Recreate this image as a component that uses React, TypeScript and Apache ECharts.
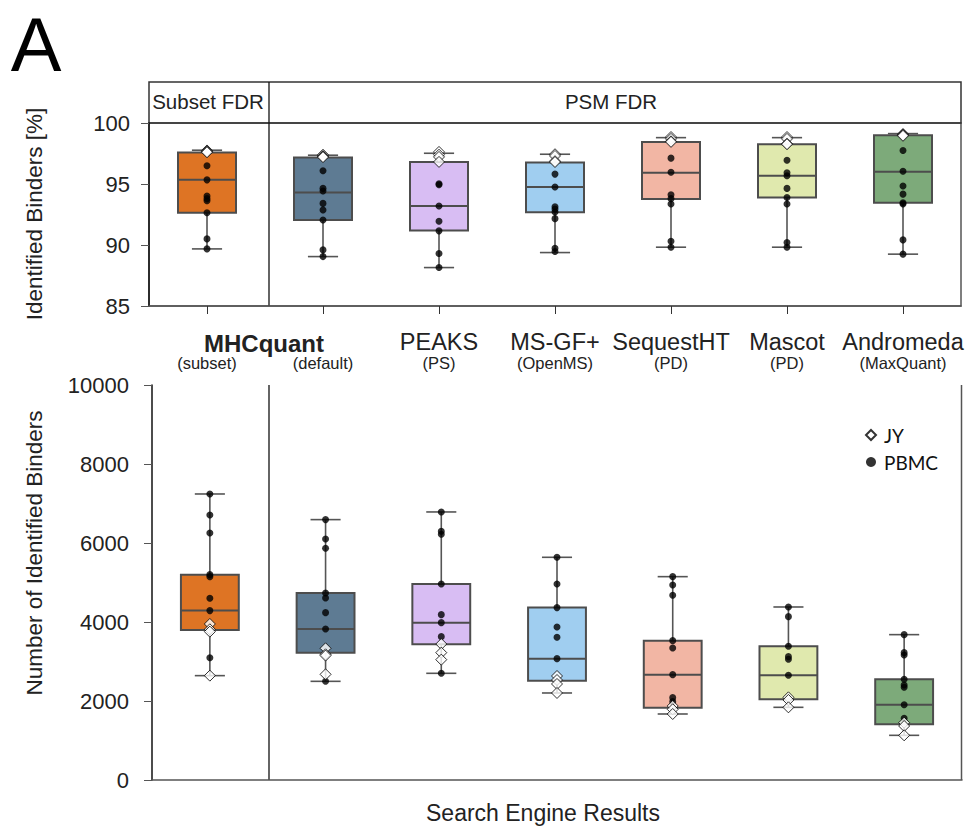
import React, { useEffect, useRef } from "react";
import * as echarts from "echarts";

// ---------- data ----------
const categories = ["MHCquant-subset", "MHCquant-default", "PEAKS", "MS-GF+", "SequestHT", "Mascot", "Andromeda"];
const engineNames = ["MHCquant", "MHCquant", "PEAKS", "MS-GF+", "SequestHT", "Mascot", "Andromeda"];
const subtitles = ["(subset)", "(default)", "(PS)", "(OpenMS)", "(PD)", "(PD)", "(MaxQuant)"];
const boxColors = ["#DE7424", "#5E7B93", "#D8BDF3", "#A0CEF0", "#F2B6A4", "#E0E9AE", "#7DAA7A"];

const pctTicks = [85, 90, 95, 100];
const countTicks = [0, 2000, 4000, 6000, 8000, 10000];

// [min, Q1, median, Q3, max]
const pctBox = [
  [89.68, 92.65, 95.34, 97.58, 97.77],
  [89.05, 92.05, 94.31, 97.17, 97.36],
  [88.15, 91.18, 93.19, 96.81, 97.52],
  [89.38, 92.68, 94.75, 96.76, 97.44],
  [89.82, 93.77, 95.92, 98.45, 98.8],
  [89.82, 93.9, 95.67, 98.26, 98.8],
  [89.25, 93.47, 96.0, 98.99, 99.13],
];
const pctJY = [
  [97.75, 97.7, 97.65, 97.6],
  [97.4, 97.3, 97.25, 97.2],
  [97.63, 97.4, 97.22, 96.81],
  [97.44, 97.3, 96.87, 96.8],
  [98.85, 98.7, 98.5, 98.45],
  [98.85, 98.7, 98.3, 98.26],
  [99.1, 99.05, 99.0, 98.95],
];
const pctPBMC = [
  [96.49, 95.34, 94.01, 93.8, 93.63, 92.65, 90.5, 89.68],
  [96.08, 94.64, 94.42, 93.41, 92.87, 92.05, 89.6, 89.05],
  [95.02, 94.94, 93.19, 91.94, 91.16, 89.3, 88.15],
  [95.81, 94.75, 93.14, 92.95, 92.7, 92.16, 89.74, 89.46],
  [97.12, 95.97, 94.12, 93.8, 93.36, 90.31, 89.82],
  [96.95, 95.92, 95.67, 94.64, 93.9, 93.36, 90.2, 89.82],
  [97.74, 96.05, 94.83, 94.17, 93.47, 93.36, 90.42, 89.25],
];

const countBox = [
  [2642, 3798, 4288, 5199, 7241],
  [2498, 3224, 3823, 4735, 6592],
  [2701, 3435, 3984, 4963, 6786],
  [2203, 2515, 3072, 4364, 5638],
  [1671, 1832, 2667, 3528, 5148],
  [1840, 2043, 2650, 3385, 4380],
  [1131, 1409, 1907, 2549, 3680],
];
const countJY = [
  [3950, 3815, 3756, 2642],
  [3334, 3182, 3150, 2675],
  [3443, 3224, 3047],
  [2633, 2532, 2431, 2203],
  [1874, 1790, 1671],
  [2093, 2026, 1840],
  [1451, 1367, 1131],
];
const countPBMC = [
  [7241, 6710, 6254, 5199, 5148, 4600, 4288, 3097],
  [6592, 6102, 5866, 4735, 4608, 4237, 3823, 2498],
  [6786, 6296, 6220, 4963, 4186, 3984, 3629, 2701],
  [5638, 4963, 4364, 3874, 3612, 3072],
  [5148, 4937, 4676, 3528, 3342, 2667, 2085, 1984],
  [4380, 4136, 3385, 3123, 3055, 2650],
  [3680, 3224, 3165, 2549, 2405, 2347, 1907, 1562],
];

// ---------- helpers ----------
const FONT = "Liberation Sans, Arial, sans-serif";
const TXT = "#222";

function boxSeries(box: number[][], gridIdx: number) {
  return {
    type: "custom",
    xAxisIndex: gridIdx,
    yAxisIndex: gridIdx,
    z: 2,
    data: box.map((b, i) => [i, ...b]),
    encode: { x: 0, y: [1, 2, 3, 4, 5] },
    renderItem: (params: any, api: any) => {
      const i = api.value(0);
      const pMin = api.coord([i, api.value(1)]);
      const pQ1 = api.coord([i, api.value(2)]);
      const pMed = api.coord([i, api.value(3)]);
      const pQ3 = api.coord([i, api.value(4)]);
      const pMax = api.coord([i, api.value(5)]);
      const band = api.size([1, 0])[0];
      const bw = band * 0.5;
      const cw = band * 0.26;
      const cx = pMed[0];
      const lineStyle = { stroke: "#555", lineWidth: 1.6, fill: null };
      return {
        type: "group",
        children: [
          { type: "line", shape: { x1: cx, y1: pMax[1], x2: cx, y2: pQ3[1] }, style: lineStyle },
          { type: "line", shape: { x1: cx, y1: pQ1[1], x2: cx, y2: pMin[1] }, style: lineStyle },
          { type: "line", shape: { x1: cx - cw / 2, y1: pMax[1], x2: cx + cw / 2, y2: pMax[1] }, style: lineStyle },
          { type: "line", shape: { x1: cx - cw / 2, y1: pMin[1], x2: cx + cw / 2, y2: pMin[1] }, style: lineStyle },
          {
            type: "rect",
            shape: { x: cx - bw / 2, y: pQ3[1], width: bw, height: pQ1[1] - pQ3[1] },
            style: { fill: boxColors[params.dataIndex], stroke: "#4d4d4d", lineWidth: 2 },
          },
          { type: "line", shape: { x1: cx - bw / 2, y1: pMed[1], x2: cx + bw / 2, y2: pMed[1] }, style: { stroke: "#4d4d4d", lineWidth: 2 } },
        ],
      };
    },
  };
}

function points(arr: number[][]) {
  const out: number[][] = [];
  arr.forEach((vals, i) => vals.forEach((v) => out.push([i, v])));
  return out;
}

function scatterPBMC(arr: number[][], gridIdx: number) {
  return {
    name: "PBMC",
    type: "scatter",
    xAxisIndex: gridIdx,
    yAxisIndex: gridIdx,
    symbol: "circle",
    symbolSize: 7,
    z: 4,
    itemStyle: { color: "#000" },
    data: points(arr),
  };
}
function scatterJY(arr: number[][], gridIdx: number) {
  return {
    name: "JY",
    type: "scatter",
    xAxisIndex: gridIdx,
    yAxisIndex: gridIdx,
    symbol: "diamond",
    symbolSize: 11,
    z: 5,
    itemStyle: { color: "#fff", borderColor: "#000", borderWidth: 1 },
    data: points(arr),
  };
}

export default function App() {
  const ref = useRef<HTMLDivElement>(null);
  useEffect(() => {
    const chart = echarts.init(ref.current!, null, { renderer: "svg" });
    const option: any = {
      animation: false,
      backgroundColor: "#fff",
      textStyle: { fontFamily: FONT },
      grid: [
        { left: 149, top: 123, width: 812, height: 183, show: true, borderColor: "#555", borderWidth: 1.5, backgroundColor: "transparent" },
        { left: 152, top: 385, width: 810, height: 395 },
      ],
      xAxis: [
        {
          type: "category",
          gridIndex: 0,
          data: categories,
          axisLine: { show: true, lineStyle: { color: "#555", width: 1.5 } },
          axisTick: { show: true, alignWithLabel: true, length: 8, lineStyle: { color: "#333" } },
          axisLabel: {
            interval: 0,
            margin: 23,
            formatter: (_v: string, idx: number) =>
              idx < 2 ? `{e| }\n{s|${subtitles[idx]}}` : `{m|${engineNames[idx]}}\n{s|${subtitles[idx]}}`,
            rich: {
              m: { fontSize: 23.5, lineHeight: 25, color: TXT, fontFamily: FONT },
              e: { fontSize: 23.5, lineHeight: 25, color: TXT, fontFamily: FONT },
              s: { fontSize: 16.5, lineHeight: 17, color: TXT, fontFamily: FONT },
            },
          },
          splitLine: { show: false },
        },
        {
          type: "category",
          gridIndex: 1,
          data: categories,
          axisLine: { show: true, lineStyle: { color: "#555", width: 1.5 } },
          axisTick: { show: false },
          axisLabel: { show: false },
        },
      ],
      yAxis: [
        {
          type: "value",
          gridIndex: 0,
          min: pctTicks[0],
          max: pctTicks[pctTicks.length - 1],
          interval: 5,
          axisLine: { show: true, lineStyle: { color: "#111", width: 1.5 } },
          axisTick: { show: true, length: 8, lineStyle: { color: "#555" } },
          axisLabel: { fontSize: 22, color: TXT, margin: 19, fontFamily: FONT, formatter: (v: number) => String(v) },
          splitLine: { show: false },
        },
        {
          type: "value",
          gridIndex: 1,
          min: countTicks[0],
          max: countTicks[countTicks.length - 1],
          interval: 2000,
          axisLine: { show: true, lineStyle: { color: "#111", width: 1.5 } },
          axisTick: { show: true, length: 8, lineStyle: { color: "#555" } },
          axisLabel: { fontSize: 22, color: TXT, margin: 23, fontFamily: FONT, formatter: (v: number) => String(v) },
          splitLine: { show: false },
        },
      ],
      legend: {
        orient: "vertical",
        left: 860,
        top: 420,
        itemWidth: 10,
        itemHeight: 10,
        itemGap: 7,
        data: ["JY", "PBMC"],
        textStyle: { fontFamily: "Lato, 'Open Sans', sans-serif", fontSize: 19, color: "#111", lineHeight: 20, padding: [0, 0, 0, 3] },
      },
      series: [
        boxSeries(pctBox, 0),
        scatterPBMC(pctPBMC, 0),
        scatterJY(pctJY, 0),
        boxSeries(countBox, 1),
        scatterPBMC(countPBMC, 1),
        scatterJY(countJY, 1),
      ],
      graphic: [
        { type: "text", x: 36, y: 44, style: { text: "A", fontSize: 76, fill: "#000", fontFamily: FONT, align: "center", verticalAlign: "middle" } },
        { type: "rect", shape: { x: 149, y: 82, width: 812, height: 41 }, style: { fill: "none", stroke: "#333", lineWidth: 1.5 } },
        { type: "line", shape: { x1: 269, y1: 82, x2: 269, y2: 306 }, style: { stroke: "#111", lineWidth: 1.3 } },
        { type: "line", shape: { x1: 269, y1: 385, x2: 269, y2: 780 }, style: { stroke: "#111", lineWidth: 1.3 } },
        { type: "line", shape: { x1: 961.5, y1: 385, x2: 961.5, y2: 780 }, style: { stroke: "#555", lineWidth: 1.5 } },
        { type: "text", x: 208, y: 101, style: { text: "Subset FDR", fontSize: 20.5, fill: TXT, fontFamily: FONT, align: "center", verticalAlign: "middle" } },
        { type: "text", x: 611, y: 101, style: { text: "PSM FDR", fontSize: 20.5, fill: TXT, fontFamily: FONT, align: "center", verticalAlign: "middle" } },
        { type: "text", x: 264, y: 343, style: { text: "MHCquant", fontSize: 24, fontWeight: "bold", fill: TXT, fontFamily: FONT, align: "center", verticalAlign: "middle" } },
        { type: "text", x: 34, y: 214, rotation: Math.PI / 2, style: { text: "Identified Binders [%]", fontSize: 22.5, fill: TXT, fontFamily: FONT, align: "center", verticalAlign: "middle" } },
        { type: "text", x: 34, y: 553, rotation: Math.PI / 2, style: { text: "Number of Identified Binders", fontSize: 22.5, fill: TXT, fontFamily: FONT, align: "center", verticalAlign: "middle" } },
        { type: "text", x: 543, y: 813, style: { text: "Search Engine Results", fontSize: 23, fill: TXT, fontFamily: FONT, align: "center", verticalAlign: "middle" } },
      ],
    };
    chart.setOption(option);
    return () => chart.dispose();
  }, []);
  return (
    <div
      ref={ref}
      style={{ position: "fixed", left: 0, top: 0, width: 968, height: 827, background: "#fff" }}
    />
  );
}
